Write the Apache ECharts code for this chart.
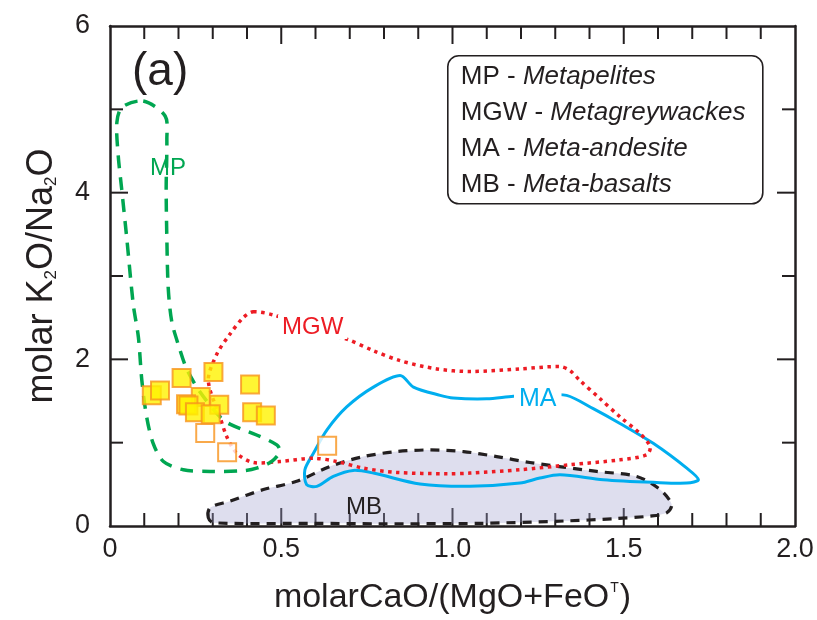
<!DOCTYPE html>
<html>
<head>
<meta charset="utf-8">
<title>molar K2O/Na2O vs molar CaO/(MgO+FeOT)</title>
<script src="https://cdn.jsdelivr.net/npm/echarts@6/dist/echarts.min.js"></script>
<style>
  html, body { margin: 0; padding: 0; background: #fff; }
  #chart { width: 817px; height: 620px; }
</style>
</head>
<body>
<div id="chart"></div>
<script>
// Axis ranges and tick values
const xRange = [0, 2];
const yRange = [0, 6];
const xTickValues = [0, 0.5, 1.0, 1.5, 2.0];
const yTickValues = [0, 2, 4, 6];
const xMinorTicks = [0.1, 0.2, 0.3, 0.4, 0.6, 0.7, 0.8, 0.9, 1.1, 1.2, 1.3, 1.4, 1.6, 1.7, 1.8, 1.9];
const yMinorTicks = [1, 3, 5];

// Field outlines: [CaO/(MgO+FeOT), K2O/Na2O]
const mpOutline = [
  [0.097, 5.099], [0.161, 4.920], [0.166, 4.643], [0.164, 4.048], [0.166, 3.452],
  [0.170, 2.857], [0.180, 2.460], [0.199, 2.182], [0.224, 1.885], [0.263, 1.607],
  [0.321, 1.310], [0.350, 1.223], [0.428, 1.092], [0.487, 0.973], [0.496, 0.893],
  [0.472, 0.774], [0.428, 0.694], [0.389, 0.663], [0.292, 0.655], [0.214, 0.675],
  [0.156, 0.774], [0.126, 0.992], [0.107, 1.310], [0.093, 1.746], [0.083, 2.262],
  [0.068, 2.658], [0.049, 3.452], [0.034, 4.048], [0.024, 4.444], [0.020, 4.841],
  [0.035, 5.024]
];
const mgwOutline = [
  [0.418, 2.571], [0.477, 2.532], [0.555, 2.417], [0.613, 2.321], [0.691, 2.242],
  [0.769, 2.104], [0.847, 1.984], [0.954, 1.885], [1.051, 1.854], [1.197, 1.885],
  [1.314, 1.913], [1.343, 1.865], [1.372, 1.746], [1.431, 1.527], [1.489, 1.310],
  [1.547, 1.111], [1.577, 0.952], [1.567, 0.854], [1.489, 0.794], [1.343, 0.735],
  [1.197, 0.675], [1.051, 0.635], [0.983, 0.627], [0.837, 0.643], [0.740, 0.694],
  [0.662, 0.774], [0.594, 0.813], [0.496, 0.774], [0.418, 0.762], [0.370, 0.873],
  [0.341, 1.071], [0.321, 1.310], [0.287, 1.746], [0.312, 2.063], [0.350, 2.301],
  [0.389, 2.500]
];
const maOutline = [
  [0.847, 1.806], [0.886, 1.667], [0.964, 1.568], [1.002, 1.536], [1.100, 1.527],
  [1.178, 1.556], [1.255, 1.565], [1.333, 1.568], [1.411, 1.408], [1.489, 1.230],
  [1.586, 0.992], [1.684, 0.694], [1.718, 0.556], [1.684, 0.515], [1.586, 0.524],
  [1.440, 0.556], [1.314, 0.615], [1.255, 0.575], [1.197, 0.515], [1.051, 0.476],
  [0.905, 0.504], [0.769, 0.635], [0.710, 0.667], [0.652, 0.595], [0.604, 0.476],
  [0.574, 0.496], [0.569, 0.675], [0.594, 0.873], [0.633, 1.151], [0.691, 1.429],
  [0.769, 1.667]
];
const mbOutline = [
  [0.287, 0.099], [0.292, 0.218], [0.350, 0.298], [0.448, 0.437], [0.545, 0.536],
  [0.642, 0.714], [0.740, 0.833], [0.837, 0.893], [0.934, 0.913], [1.032, 0.893],
  [1.129, 0.833], [1.226, 0.762], [1.324, 0.706], [1.421, 0.655], [1.538, 0.595],
  [1.606, 0.437], [1.640, 0.258], [1.625, 0.158], [1.577, 0.119], [1.470, 0.087],
  [1.324, 0.060], [1.080, 0.032], [0.788, 0.027], [0.594, 0.032], [0.302, 0.039]
];

// Samples
const filledSamples = [
  [0.122, 1.568], [0.146, 1.627], [0.209, 1.777], [0.302, 1.849], [0.409, 1.699],
  [0.265, 1.548], [0.222, 1.461], [0.229, 1.446], [0.248, 1.365], [0.319, 1.456],
  [0.294, 1.342], [0.415, 1.365], [0.455, 1.325]
];
const openSamples = [
  [0.278, 1.115], [0.342, 0.885], [0.634, 0.964]
];

// Legend entries: abbreviation, rock type
const legendAbbrev = ['MP', 'MGW', 'MA', 'MB'];
const legendNames = ['Metapelites', 'Metagreywackes', 'Meta-andesite', 'Meta-basalts'];

const FONT = '"Liberation Sans", Arial, Helvetica, sans-serif';
const INK = '#231F20';

function outlineSeries(points, style, z) {
  return {
    type: 'custom',
    coordinateSystem: 'cartesian2d',
    clip: false,
    silent: true,
    z: z,
    data: [0],
    renderItem: function (params, api) {
      const pts = points.map(function (p) { return api.coord(p); });
      return {
        type: 'polygon',
        shape: { points: pts, smooth: 0.3 },
        style: style
      };
    }
  };
}

// Inward tick marks on all four sides of the frame, drawn as thin rect symbols
const MAJOR_LEN = 18, MINOR_LEN = 13, TICK_W = 2;
const inner = function (v, r) { return v > r[0] && v < r[1]; };
function xTicks(values, len) {
  const out = [];
  values.forEach(function (v) {
    out.push({ value: [v, yRange[0]], symbolSize: [TICK_W, len], symbolOffset: [0, -len / 2] });
    out.push({ value: [v, yRange[1]], symbolSize: [TICK_W, len], symbolOffset: [0, len / 2] });
  });
  return out;
}
function yTicks(values, len) {
  const out = [];
  values.forEach(function (v) {
    out.push({ value: [xRange[0], v], symbolSize: [len, TICK_W], symbolOffset: [len / 2, 0] });
    out.push({ value: [xRange[1], v], symbolSize: [len, TICK_W], symbolOffset: [-len / 2, 0] });
  });
  return out;
}
const tickData = []
  .concat(xTicks(xTickValues.filter(function (v) { return inner(v, xRange); }), MAJOR_LEN))
  .concat(xTicks(xMinorTicks, MINOR_LEN))
  .concat(yTicks(yTickValues.filter(function (v) { return inner(v, yRange); }), MAJOR_LEN))
  .concat(yTicks(yMinorTicks, MINOR_LEN));

const tickSeries = {
  type: 'scatter',
  symbol: 'rect',
  clip: false,
  silent: true,
  z: 1,
  data: tickData,
  itemStyle: { color: INK, borderWidth: 0, opacity: 1 },
  emphasis: { disabled: true }
};

function xAxisDef(pos, showLabels) {
  return {
    type: 'value', position: pos, min: xRange[0], max: xRange[1], interval: 0.5,
    axisLine: { show: true, onZero: false, lineStyle: { color: INK, width: 2.5 } },
    axisTick: { show: false },
    minorTick: { show: false },
    splitLine: { show: false },
    axisLabel: {
      show: showLabels, margin: 10, fontFamily: FONT, fontSize: 27, color: INK,
      formatter: function (v) {
        const t = xTickValues.find(function (x) { return Math.abs(x - v) < 1e-9; });
        if (t === undefined) return '';
        return t === 0 ? '0' : t.toFixed(1);
      }
    }
  };
}

function yAxisDef(pos, showLabels) {
  return {
    type: 'value', position: pos, min: yRange[0], max: yRange[1], interval: 2,
    axisLine: { show: true, onZero: false, lineStyle: { color: INK, width: 2.5 } },
    axisTick: { show: false },
    minorTick: { show: false },
    splitLine: { show: false },
    axisLabel: {
      show: showLabels, margin: 20, fontFamily: FONT, fontSize: 27, color: INK,
      formatter: function (v) {
        return yTickValues.indexOf(v) >= 0 ? String(v) : '';
      }
    }
  };
}

const xBottom = xAxisDef('bottom', true);
xBottom.name = 'molarCaO/(MgO+FeO{sup|T})';
xBottom.nameLocation = 'middle';
xBottom.nameGap = 55;
xBottom.nameTextStyle = {
  fontFamily: FONT, fontSize: 34, color: INK,
  rich: { sup: { fontFamily: FONT, fontSize: 14, color: INK, verticalAlign: 'top', padding: [0, 1, 16, 1] } }
};

const yLeft = yAxisDef('left', true);
yLeft.name = 'molar K{sub|2}O/Na{sub|2}O';
yLeft.nameLocation = 'middle';
yLeft.nameGap = 50;
yLeft.nameTextStyle = {
  fontFamily: FONT, fontSize: 36, color: INK,
  rich: { sub: { fontFamily: FONT, fontSize: 17, color: INK, verticalAlign: 'bottom', padding: [12, 0, 0, 0] } }
};

const legendText = legendAbbrev.map(function (a, i) {
  return '{n|' + a + '}{d| - }{i|' + legendNames[i] + '}';
}).join('\n');

const chart = echarts.init(document.getElementById('chart'), null, { renderer: 'canvas' });

chart.setOption({
  animation: false,
  backgroundColor: '#ffffff',
  grid: { left: 110, right: 22, top: 26, bottom: 90 },
  xAxis: [xBottom, xAxisDef('top', false)],
  yAxis: [yLeft, yAxisDef('right', false)],
  series: [
    tickSeries,
    outlineSeries(mbOutline, {
      fill: 'rgba(160,160,205,0.35)', stroke: INK, lineWidth: 3.2,
      lineDash: [9, 7], lineCap: 'butt'
    }, 2),
    outlineSeries(maOutline, {
      fill: 'none', stroke: '#00AEEF', lineWidth: 3
    }, 3),
    outlineSeries(mgwOutline, {
      fill: 'none', stroke: '#ED1C24', lineWidth: 3.5, lineDash: [3.5, 4.5], lineCap: 'butt'
    }, 4),
    outlineSeries(mpOutline, {
      fill: 'none', stroke: '#00A651', lineWidth: 3.5, lineDash: [13, 9], lineCap: 'butt'
    }, 5),
    {
      type: 'scatter', z: 10, symbol: 'rect', symbolSize: 18,
      data: openSamples,
      itemStyle: { color: '#ffffff', borderColor: '#F7941D', borderWidth: 2 }
    },
    {
      type: 'scatter', z: 10, symbol: 'rect', symbolSize: 18,
      data: filledSamples,
      itemStyle: { color: '#FFF200', borderColor: '#F7941D', borderWidth: 2 }
    }
  ],
  graphic: [
    { type: 'text', z: 100, left: 132, top: 49,
      style: { text: '(a)', font: '46px ' + FONT, fill: INK } },
    { type: 'text', z: 100, left: 150, top: 156,
      style: { text: 'MP', font: '24px ' + FONT, fill: '#00A651' } },
    { type: 'text', z: 100, left: 278, top: 315,
      style: { text: 'MGW', font: '24px ' + FONT, fill: '#ED1C24',
               backgroundColor: '#ffffff', padding: [0, 4, 0, 4] } },
    { type: 'text', z: 100, left: 514, top: 387,
      style: { text: 'MA', font: '25px ' + FONT, fill: '#00AEEF',
               backgroundColor: '#ffffff', padding: [0, 5, 0, 5] } },
    { type: 'text', z: 100, left: 346, top: 495,
      style: { text: 'MB', font: '24px ' + FONT, fill: INK } },
    {
      type: 'group', z: 100, left: 447, top: 55,
      children: [
        { type: 'rect', z: 100,
          shape: { x: 0, y: 0, width: 315, height: 148, r: 11 },
          style: { fill: '#ffffff', stroke: INK, lineWidth: 1.6 } },
        { type: 'text', z: 101, x: 13, y: 3,
          style: {
            text: legendText, lineHeight: 36, fill: INK,
            rich: {
              n: { fontFamily: FONT, fontSize: 26, fill: INK, lineHeight: 36 },
              d: { fontFamily: FONT, fontSize: 26, fill: INK, lineHeight: 36 },
              i: { fontFamily: FONT, fontSize: 26, fontStyle: 'italic', fill: INK, lineHeight: 36 }
            }
          } }
      ]
    }
  ]
});
</script>
</body>
</html>
